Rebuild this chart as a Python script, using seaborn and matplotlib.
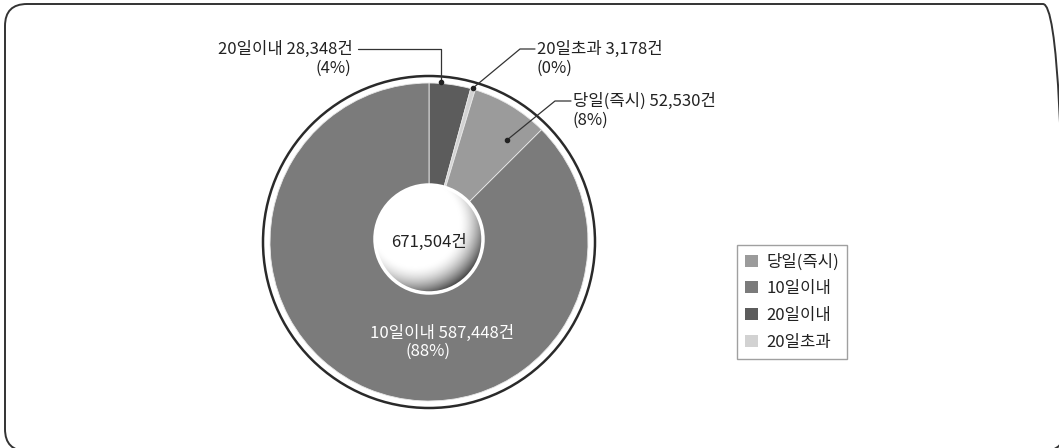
import matplotlib.pyplot as plt
import numpy as np
import seaborn as sns
from matplotlib.patches import Circle, FancyBboxPatch, Patch

sns.set_theme(style="white")
plt.rcParams['font.family'] = ['Noto Sans CJK KR', 'DejaVu Sans']

# data (clockwise from 12 o'clock, as drawn)
slice_names = ["20일이내", "20일초과", "당일(즉시)", "10일이내"]
slice_counts = [28348, 3178, 52530, 587448]
slice_pcts = ["(4%)", "(0%)", "(8%)", "(88%)"]
slice_colors = ["#5c5c5c", "#d2d2d2", "#9b9b9b", "#7b7b7b"]
legend_order = ["당일(즉시)", "10일이내", "20일이내", "20일초과"]
total_label = "671,504건"

W, H = 1059, 448
def Y(y):
    return H - y

fig = plt.figure(figsize=(W / 100, H / 100), dpi=100)
ax = fig.add_axes([0, 0, 1, 1])

cx, cy, r = 429, 242, 159
# outer ring
ax.add_patch(Circle((cx, Y(cy)), r + 7, fc="white", ec="#2a2a2a", lw=1.8, zorder=1))

wedges, _ = ax.pie(slice_counts, colors=slice_colors, startangle=90, counterclock=False,
                   radius=r, center=(cx, Y(cy)), frame=True,
                   wedgeprops=dict(linewidth=0.6, edgecolor="#e8e8e8"))
for w in wedges:
    w.set_zorder(2)
ax.set_xlim(0, W)
ax.set_ylim(0, H)
ax.axis("off")

# rounded frame (right and bottom edges run just past the image border)
frame = FancyBboxPatch((5, Y(451)), 1060, 447, boxstyle="round,pad=0,rounding_size=22",
                       fc="none", ec="#333333", lw=1.4)
ax.add_patch(frame)

# inner shaded disc
icx, icy, ir = 429, 239, 54
n = 300
gx, gy = np.meshgrid(np.linspace(-1, 1, n), np.linspace(-1, 1, n))
d = np.hypot(gx + 0.25, gy - 0.3)
val = 1 - 0.7 * np.clip((d - 0.8) / 0.55, 0, 1) ** 1.7
img = ax.imshow(val, cmap="gray", vmin=0, vmax=1, origin="lower",
                extent=(icx - ir, icx + ir, Y(icy) - ir, Y(icy) + ir), zorder=3,
                interpolation="bilinear")
disc = Circle((icx, Y(icy)), ir, transform=ax.transData)
img.set_clip_path(disc)
ax.add_patch(Circle((icx, Y(icy)), ir, fc="none", ec="white", lw=2.5, zorder=4))

fs = 12
tc = "#222222"
lc = "#333333"
ax.text(icx, Y(icy + 3), total_label, ha="center", va="center", fontsize=fs,
        color=tc, zorder=5)

# label: 20일이내
ax.text(353, Y(49), f"{slice_names[0]} {slice_counts[0]:,}건", ha="right", va="center",
        fontsize=fs, color=tc)
ax.text(351, Y(68), slice_pcts[0], ha="right", va="center", fontsize=fs, color=tc)
ax.plot([358, 441, 441], [Y(49), Y(49), Y(82)], color=lc, lw=0.9, zorder=6)
ax.plot(441, Y(82), "o", ms=3, color=tc, zorder=6)

# label: 20일초과
ax.text(537, Y(49), f"{slice_names[1]} {slice_counts[1]:,}건", ha="left", va="center",
        fontsize=fs, color=tc)
ax.text(537, Y(68), slice_pcts[1], ha="left", va="center", fontsize=fs, color=tc)
ax.plot([535, 520, 473], [Y(49), Y(49), Y(88)], color=lc, lw=0.9, zorder=6)
ax.plot(473, Y(88), "o", ms=3, color=tc, zorder=6)

# label: 당일(즉시)
ax.text(573, Y(101), f"{slice_names[2]} {slice_counts[2]:,}건", ha="left", va="center",
        fontsize=fs, color=tc)
ax.text(573, Y(120), slice_pcts[2], ha="left", va="center", fontsize=fs, color=tc)
ax.plot([571, 555, 507], [Y(101), Y(101), Y(140)], color=lc, lw=0.9, zorder=6)
ax.plot(507, Y(140), "o", ms=3, color=tc, zorder=6)

# label: 10일이내 (inside, white)
ax.text(442, Y(333), f"{slice_names[3]} {slice_counts[3]:,}건", ha="center", va="center",
        fontsize=fs, color="white", zorder=6)
ax.text(428, Y(351), slice_pcts[3], ha="center", va="center", fontsize=fs, color="white",
        zorder=6)

# legend
handles = [Patch(fc=slice_colors[slice_names.index(nm)], ec="none") for nm in legend_order]
leg = ax.legend(handles, legend_order, loc="upper left",
                bbox_to_anchor=(737 / W, 1 - 245 / H), bbox_transform=fig.transFigure,
                frameon=True, fancybox=False, edgecolor="#888888", fontsize=fs,
                handlelength=0.75, handleheight=0.75, handletextpad=0.5,
                labelspacing=0.58, borderpad=0.5, borderaxespad=0)
leg.get_frame().set_linewidth(1.0)
for t in leg.get_texts():
    t.set_color(tc)

fig.savefig("out.png", dpi=100)
